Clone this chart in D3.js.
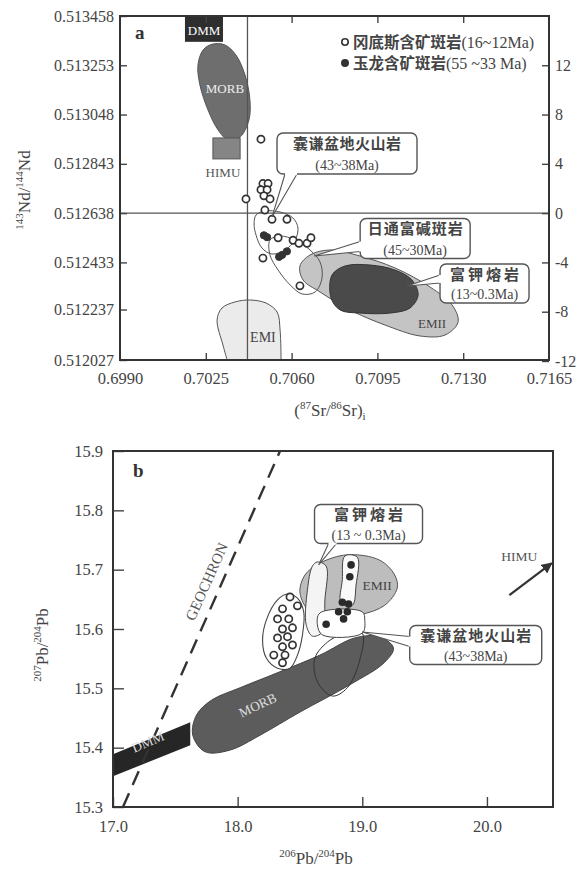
<!DOCTYPE html>
<html>
<head>
<meta charset="utf-8">
<script src="https://cdn.jsdelivr.net/npm/d3@7"></script>
<style>
  body { margin: 0; background: #fff; }
  svg text { font-family: "Liberation Serif", "DejaVu Serif", serif; fill: #444; }
  svg text.cjk, svg tspan.cjk { font-family: "Noto Sans CJK SC", sans-serif; font-weight: bold; }
</style>
</head>
<body>
<svg id="chart" width="580" height="877"></svg>
<script>
// ---------- panel a : (87Sr/86Sr)i vs 143Nd/144Nd (eNd) ----------
var srTicks = [0.6990, 0.7025, 0.7060, 0.7095, 0.7130, 0.7165];
var ndTicks = [0.512027, 0.512237, 0.512433, 0.512638, 0.512843, 0.513048, 0.513253, 0.513458];
var epsTicks = [-12, -8, -4, 0, 4, 8, 12];
var chur = 0.512638;
var bulkSr = 0.7042;

// points as [Sr, eNd]
var gangdiseA = [[0.70475, 6.0], [0.70483, 2.4], [0.70504, 2.4], [0.70475, 1.9], [0.70500, 1.9],
  [0.70487, 1.4], [0.70512, 1.15], [0.70414, 1.15], [0.70491, 0.25], [0.70520, -0.5],
  [0.70581, -0.5], [0.70545, -2.0], [0.70606, -2.2], [0.70630, -2.45], [0.70663, -2.45],
  [0.70679, -2.0], [0.70483, -3.65], [0.70634, -5.9]];
var yulongA = [[0.70487, -1.8], [0.70500, -1.95], [0.70581, -3.1], [0.70561, -3.4], [0.70549, -3.55]];

var dmmA = [[0.70165, 13.9], [0.70320, 16.0]];
var himuA = [[0.70279, 6.1], [0.70390, 4.4]];
var morbA = [[0.70275, 13.7], [0.70328, 13.65], [0.70373, 12.83], [0.70410, 11.21], [0.70430, 9.18],
  [0.70426, 7.56], [0.70390, 6.18], [0.70341, 5.94], [0.70300, 6.75], [0.70259, 8.37],
  [0.70226, 10.40], [0.70218, 12.02], [0.70239, 13.24]];
var emiA = [[0.70337, -11.92], [0.70320, -10.7], [0.70296, -8.68], [0.70316, -7.70], [0.70369, -7.21],
  [0.70430, -7.05], [0.70496, -7.30], [0.70541, -8.03], [0.70553, -9.49], [0.70557, -11.92]];
var emiiA = [[0.70634, -4.29], [0.70675, -3.40], [0.70757, -2.99], [0.70879, -3.48], [0.71022, -4.45],
  [0.71165, -6.0], [0.71255, -7.46], [0.71279, -8.84], [0.71226, -9.89], [0.71124, -9.97],
  [0.70981, -9.08], [0.70838, -7.86], [0.70716, -6.40], [0.70647, -5.43]];
var potassicA = [[0.70765, -5.02], [0.70818, -4.29], [0.70920, -4.21], [0.71022, -4.62], [0.71091, -5.43],
  [0.71116, -6.65], [0.71083, -7.70], [0.71002, -8.11], [0.70879, -8.11], [0.70798, -7.86],
  [0.70761, -6.89]];
var nangqianA = [[0.70455, -0.15], [0.70492, 0.17], [0.70553, 0.09], [0.70606, -0.40], [0.70626, -1.21],
  [0.70614, -2.18], [0.70573, -2.99], [0.70520, -3.32], [0.70479, -2.83], [0.70455, -1.78],
  [0.70447, -0.88]];
var ritongA = [[0.70512, -2.18], [0.70553, -1.86], [0.70614, -2.18], [0.70675, -2.99], [0.70716, -3.97],
  [0.70724, -5.27], [0.70696, -6.40], [0.70643, -6.56], [0.70594, -5.83], [0.70545, -4.62],
  [0.70512, -3.40]];

// ---------- panel b : 206Pb/204Pb vs 207Pb/204Pb ----------
var pb6Ticks = [17.0, 18.0, 19.0, 20.0];
var pb7Ticks = [15.3, 15.4, 15.5, 15.6, 15.7, 15.8, 15.9];
var geochron = [[17.08, 15.3], [18.34, 15.9]];
var himuArrow = [[20.18, 15.657], [20.52, 15.711]];

var gangdiseB = [[18.42, 15.654], [18.48, 15.639], [18.36, 15.634], [18.32, 15.617], [18.41, 15.617],
  [18.36, 15.600], [18.44, 15.602], [18.32, 15.585], [18.40, 15.587], [18.36, 15.570],
  [18.44, 15.573], [18.29, 15.556], [18.38, 15.556], [18.36, 15.543]];
var yulongB = [[18.91, 15.708], [18.90, 15.688], [18.84, 15.645], [18.89, 15.642], [18.81, 15.629],
  [18.88, 15.629], [18.85, 15.617], [18.71, 15.608]];

var dmmB = [[16.99, 15.388], [17.62, 15.443], [17.62, 15.404], [16.99, 15.351]];
var morbB = [[17.64, 15.421], [17.67, 15.455], [17.79, 15.480], [18.02, 15.501], [18.34, 15.528],
  [18.66, 15.556], [18.94, 15.585], [19.14, 15.587], [19.25, 15.568], [19.18, 15.544],
  [18.90, 15.506], [18.50, 15.460], [18.18, 15.421], [17.94, 15.396], [17.74, 15.393]];
var emiiB = [[18.50, 15.661], [18.54, 15.691], [18.66, 15.711], [18.88, 15.725], [19.14, 15.716],
  [19.26, 15.691], [19.28, 15.669], [19.18, 15.640], [18.98, 15.624], [18.74, 15.620],
  [18.58, 15.629]];
var gangdiseFieldB = [[18.40, 15.659], [18.48, 15.652], [18.53, 15.629], [18.52, 15.590], [18.48, 15.556],
  [18.42, 15.534], [18.32, 15.534], [18.23, 15.551], [18.20, 15.581], [18.23, 15.615],
  [18.32, 15.649]];
var potassicB = [[18.64, 15.713], [18.71, 15.706], [18.70, 15.649], [18.68, 15.595], [18.60, 15.588],
  [18.55, 15.607], [18.56, 15.666], [18.60, 15.706]];
var yulongBand = [[18.86, 15.723], [18.96, 15.721], [18.95, 15.674], [18.92, 15.640], [18.83, 15.644],
  [18.84, 15.683]];
var yulongBox = [[18.66, 15.627], [19.00, 15.629], [19.02, 15.615], [19.00, 15.593], [18.68, 15.590],
  [18.64, 15.607]];
var nangqianB = [[18.74, 15.581], [18.90, 15.595], [19.00, 15.593], [18.98, 15.548], [18.88, 15.501],
  [18.76, 15.487], [18.64, 15.511], [18.62, 15.551]];

var legendItems = [
  { filled: false, name: "冈底斯含矿斑岩", age: "(16~12Ma)" },
  { filled: true, name: "玉龙含矿斑岩", age: "(55 ~33 Ma)" }
];

// ---------- scales ----------
function eps(r) { return (r / chur - 1) * 1e4; }

var xA = d3.scaleLinear().domain([0.6990, 0.7165]).range([120, 549]);
var yA = d3.scaleLinear().domain([0.512027, 0.513458]).range([360, 16]);
var eA = d3.scaleLinear().domain([eps(0.512027), eps(0.513458)]).range([360, 16]);

var xB = d3.scaleLinear().domain([17.0, 20.53]).range([113, 553]);
var yB = d3.scaleLinear().domain([15.3, 15.9]).range([807, 451]);

var svg = d3.select("#chart");
var defs = svg.append("defs");
defs.append("clipPath").attr("id", "clipA").append("rect")
  .attr("x", 120).attr("y", 16).attr("width", 429).attr("height", 344);
defs.append("clipPath").attr("id", "clipB").append("rect")
  .attr("x", 113).attr("y", 451).attr("width", 440).attr("height", 356);
defs.append("marker").attr("id", "arrow").attr("viewBox", "0 0 10 10")
  .attr("refX", 9).attr("refY", 5).attr("markerWidth", 5).attr("markerHeight", 5)
  .attr("orient", "auto")
  .append("path").attr("d", "M0,0 L10,5 L0,10 z").attr("fill", "#333");

var lineA = d3.line().x(function(d) { return xA(d[0]); }).y(function(d) { return eA(d[1]); });
var lineB = d3.line().x(function(d) { return xB(d[0]); }).y(function(d) { return yB(d[1]); });
var smooth = d3.curveCatmullRomClosed.alpha(0.5);

function styleAxis(g, size) {
  g.select(".domain").remove();
  g.selectAll(".tick line").attr("stroke", "#444").attr("stroke-width", 1.4);
  g.selectAll(".tick text").attr("font-size", size)
    .attr("font-family", "Liberation Serif, serif");
}

// ================= panel a =================
var pa = svg.append("g");
var fa = pa.append("g").attr("clip-path", "url(#clipA)");

fa.append("path").attr("d", lineA.curve(d3.curveCatmullRom)(emiA) + "Z")
  .attr("fill", "#ebebeb").attr("stroke", "#555").attr("stroke-width", 1);
fa.append("path").attr("d", lineA.curve(smooth)(emiiA))
  .attr("fill", "#c4c4c4").attr("stroke", "#555").attr("stroke-width", 1);
fa.append("path").attr("d", lineA.curve(smooth)(potassicA))
  .attr("fill", "#4a4a4a").attr("stroke", "#333").attr("stroke-width", 1);
fa.append("path").attr("d", lineA.curve(smooth)(ritongA))
  .attr("fill", "none").attr("stroke", "#555").attr("stroke-width", 1);
fa.append("path").attr("d", lineA.curve(smooth)(nangqianA))
  .attr("fill", "none").attr("stroke", "#555").attr("stroke-width", 1);
fa.append("path").attr("d", lineA.curve(smooth)(morbA))
  .attr("fill", "#6e6e6e").attr("stroke", "#555").attr("stroke-width", 1);
fa.append("rect")
  .attr("x", xA(himuA[0][0])).attr("y", eA(himuA[0][1]))
  .attr("width", xA(himuA[1][0]) - xA(himuA[0][0])).attr("height", eA(himuA[1][1]) - eA(himuA[0][1]))
  .attr("fill", "#858585").attr("stroke", "#555");
fa.append("rect")
  .attr("x", xA(dmmA[0][0])).attr("y", eA(dmmA[1][1]))
  .attr("width", xA(dmmA[1][0]) - xA(dmmA[0][0])).attr("height", eA(dmmA[0][1]) - eA(dmmA[1][1]))
  .attr("fill", "#2e2e2e");

// reference lines (bulk earth)
fa.append("line").attr("x1", xA(bulkSr)).attr("x2", xA(bulkSr)).attr("y1", 16).attr("y2", 360)
  .attr("stroke", "#555").attr("stroke-width", 1.3);
fa.append("line").attr("x1", 120).attr("x2", 549).attr("y1", eA(0)).attr("y2", eA(0))
  .attr("stroke", "#555").attr("stroke-width", 1.3);

// field labels
var fieldLabelsA = [
  { t: "DMM", at: [0.70243, 14.8], fill: "#fff", size: 13 },
  { t: "MORB", at: [0.70328, 10.1], fill: "#eee", size: 13 },
  { t: "HIMU", at: [0.70320, 3.26], fill: "#555", size: 13 },
  { t: "EMI", at: [0.70483, -10.05], fill: "#444", size: 14 },
  { t: "EMII", at: [0.71173, -8.92], fill: "#444", size: 13 }
];
fieldLabelsA.forEach(function(l) {
  fa.append("text").attr("x", xA(l.at[0])).attr("y", eA(l.at[1])).attr("dy", "0.35em")
    .attr("text-anchor", "middle").attr("font-size", l.size).style("fill", l.fill).text(l.t);
});

// points
fa.selectAll(".ga").data(gangdiseA).enter().append("circle")
  .attr("cx", function(d) { return xA(d[0]); }).attr("cy", function(d) { return eA(d[1]); })
  .attr("r", 3.6).attr("fill", "#fff").attr("stroke", "#333").attr("stroke-width", 1.7);
fa.selectAll(".ya").data(yulongA).enter().append("circle")
  .attr("cx", function(d) { return xA(d[0]); }).attr("cy", function(d) { return eA(d[1]); })
  .attr("r", 3.6).attr("fill", "#333").attr("stroke", "#333").attr("stroke-width", 1);

// axes
pa.append("g").attr("transform", "translate(120,0)")
  .call(d3.axisLeft(yA).tickValues(ndTicks).tickFormat(d3.format(".6f")).tickSize(-7).tickPadding(6))
  .call(styleAxis, 16);
pa.append("g").attr("transform", "translate(549,0)")
  .call(d3.axisRight(eA).tickValues(epsTicks).tickFormat(function(d) { return String(d); }).tickSize(-7).tickPadding(6))
  .call(styleAxis, 16);
pa.append("g").attr("transform", "translate(0,360)")
  .call(d3.axisBottom(xA).tickValues(srTicks.slice(1, -1)).tickFormat("").tickSize(-7))
  .call(styleAxis, 16);
pa.append("g").attr("transform", "translate(0,360)")
  .call(d3.axisBottom(xA).tickValues(srTicks).tickFormat(d3.format(".4f")).tickSize(0).tickPadding(12))
  .call(styleAxis, 16.5);
pa.append("g").attr("transform", "translate(0,16)")
  .call(d3.axisTop(xA).tickValues(srTicks.slice(1, -1)).tickFormat("").tickSize(-7))
  .call(styleAxis, 16);
pa.append("rect").attr("x", 120).attr("y", 16).attr("width", 429).attr("height", 344)
  .attr("fill", "none").attr("stroke", "#333").attr("stroke-width", 2);

pa.append("text").attr("x", 135).attr("y", 39).attr("font-size", 19).attr("font-weight", "bold")
  .style("fill", "#333").text("a");

// legend
legendItems.forEach(function(it, i) {
  var y = 42 + i * 21;
  pa.append("circle").attr("cx", 345).attr("cy", y).attr("r", 3.2)
    .attr("fill", it.filled ? "#333" : "#fff").attr("stroke", "#333").attr("stroke-width", 1.6);
  var t = pa.append("text").attr("x", 353).attr("y", y).attr("dy", "0.36em");
  t.append("tspan").attr("class", "cjk").attr("font-size", 15.5).text(it.name);
  t.append("tspan").attr("font-size", 16).text(it.age);
});

// axis titles a
var xt = pa.append("text").attr("x", 330).attr("y", 416).attr("text-anchor", "middle").attr("font-size", 17);
xt.append("tspan").text("(");
xt.append("tspan").attr("font-size", 11).attr("dy", -7).text("87");
xt.append("tspan").attr("dy", 7).text("Sr/");
xt.append("tspan").attr("font-size", 11).attr("dy", -7).text("86");
xt.append("tspan").attr("dy", 7).text("Sr)");
xt.append("tspan").attr("font-size", 11).attr("dy", 4).text("i");

var yt = pa.append("text").attr("transform", "translate(30,190) rotate(-90)")
  .attr("text-anchor", "middle").attr("font-size", 17);
yt.append("tspan").attr("font-size", 11).attr("dy", -7).text("143");
yt.append("tspan").attr("dy", 7).text("Nd/");
yt.append("tspan").attr("font-size", 11).attr("dy", -7).text("144");
yt.append("tspan").attr("dy", 7).text("Nd");

// ================= panel b =================
var pb = svg.append("g");
var fb = pb.append("g").attr("clip-path", "url(#clipB)");

fb.append("path").attr("d", lineB.curve(d3.curveLinearClosed)(dmmB)).attr("fill", "#262626");
fb.append("path").attr("d", lineB.curve(smooth)(morbB))
  .attr("fill", "#5c5c5c").attr("stroke", "#444").attr("stroke-width", 1);
fb.append("path").attr("d", lineB.curve(smooth)(emiiB))
  .attr("fill", "#bdbdbd").attr("stroke", "#555").attr("stroke-width", 1);
fb.append("path").attr("d", lineB.curve(smooth)(nangqianB))
  .attr("fill", "none").attr("stroke", "#333").attr("stroke-width", 1);
fb.append("path").attr("d", lineB.curve(smooth)(potassicB))
  .attr("fill", "#f4f4f4").attr("stroke", "#444").attr("stroke-width", 1);
fb.append("path").attr("d", lineB.curve(smooth)(yulongBand))
  .attr("fill", "#fafafa").attr("stroke", "#444").attr("stroke-width", 1);
fb.append("path").attr("d", lineB.curve(smooth)(yulongBox))
  .attr("fill", "#fff").attr("stroke", "#444").attr("stroke-width", 1);
fb.append("path").attr("d", lineB.curve(smooth)(gangdiseFieldB))
  .attr("fill", "#fff").attr("stroke", "#444").attr("stroke-width", 1.1);

// geochron
fb.append("path").attr("d", lineB.curve(d3.curveLinear)(geochron))
  .attr("fill", "none").attr("stroke", "#333").attr("stroke-width", 2.4).attr("stroke-dasharray", "15,9");
fb.append("text").attr("transform", "translate(" + xB(17.75) + "," + yB(15.68) + ") rotate(-66)")
  .attr("text-anchor", "middle").attr("dy", "0.35em").attr("font-size", 15).style("fill", "#555")
  .text("GEOCHRON");

// field labels b
var fieldLabelsB = [
  { t: "DMM", at: [17.28, 15.41], rot: -23, fill: "#ddd" },
  { t: "MORB", at: [18.16, 15.472], rot: -25, fill: "#ddd" },
  { t: "EMII", at: [19.12, 15.674], rot: 0, fill: "#444" },
  { t: "HIMU", at: [20.26, 15.723], rot: 0, fill: "#555" }
];
fieldLabelsB.forEach(function(l) {
  fb.append("text").attr("transform", "translate(" + xB(l.at[0]) + "," + yB(l.at[1]) + ") rotate(" + l.rot + ")")
    .attr("text-anchor", "middle").attr("dy", "0.35em").attr("font-size", 13.5).style("fill", l.fill).text(l.t);
});

fb.append("line").attr("x1", xB(himuArrow[0][0])).attr("y1", yB(himuArrow[0][1]))
  .attr("x2", xB(himuArrow[1][0])).attr("y2", yB(himuArrow[1][1]))
  .attr("stroke", "#333").attr("stroke-width", 2.2).attr("marker-end", "url(#arrow)");

fb.selectAll(".gb").data(gangdiseB).enter().append("circle")
  .attr("cx", function(d) { return xB(d[0]); }).attr("cy", function(d) { return yB(d[1]); })
  .attr("r", 3.6).attr("fill", "#fff").attr("stroke", "#333").attr("stroke-width", 1.7);
fb.selectAll(".yb").data(yulongB).enter().append("circle")
  .attr("cx", function(d) { return xB(d[0]); }).attr("cy", function(d) { return yB(d[1]); })
  .attr("r", 3.8).attr("fill", "#2a2a2a");

pb.append("g").attr("transform", "translate(113,0)")
  .call(d3.axisLeft(yB).tickValues(pb7Ticks).tickFormat(d3.format(".1f")).tickSize(-11).tickPadding(10))
  .call(styleAxis, 16.5);
pb.append("g").attr("transform", "translate(0,807)")
  .call(d3.axisBottom(xB).tickValues(pb6Ticks).tickFormat(d3.format(".1f")).tickSize(-10).tickPadding(13))
  .call(styleAxis, 16.5);
pb.append("rect").attr("x", 113).attr("y", 451).attr("width", 440).attr("height", 356)
  .attr("fill", "none").attr("stroke", "#333").attr("stroke-width", 2);

pb.append("text").attr("x", 133).attr("y", 477).attr("font-size", 19).attr("font-weight", "bold")
  .style("fill", "#333").text("b");

var xtb = pb.append("text").attr("x", 316).attr("y", 864).attr("text-anchor", "middle").attr("font-size", 17);
xtb.append("tspan").attr("font-size", 11).attr("dy", -7).text("206");
xtb.append("tspan").attr("dy", 7).text("Pb/");
xtb.append("tspan").attr("font-size", 11).attr("dy", -7).text("204");
xtb.append("tspan").attr("dy", 7).text("Pb");

var ytb = pb.append("text").attr("transform", "translate(48,645) rotate(-90)")
  .attr("text-anchor", "middle").attr("font-size", 17);
ytb.append("tspan").attr("font-size", 11).attr("dy", -7).text("207");
ytb.append("tspan").attr("dy", 7).text("Pb/");
ytb.append("tspan").attr("font-size", 11).attr("dy", -7).text("204");
ytb.append("tspan").attr("dy", 7).text("Pb");

// ================= callouts =================
var callouts = [
  { g: pa, x: xA, y: eA, name: "囊谦盆地火山岩", age: "(43~38Ma)", at: [0.70826, 4.84], w: 140, h: 41,
    target: [0.70520, -0.32], side: "bottom", base: [8, 20], ls: 0.5 },
  { g: pa, x: xA, y: eA, name: "日通富碱斑岩", age: "(45~30Ma)", at: [0.71104, -2.06], w: 110, h: 40,
    target: [0.70692, -3.48], side: "left", base: [23, 33], ls: 1 },
  { g: pa, x: xA, y: eA, name: "富钾熔岩", age: "(13~0.3Ma)", at: [0.71387, -5.71], w: 89, h: 39,
    target: [0.71071, -5.92], side: "left", base: [11, 19], ls: 3 },
  { g: pb, x: xB, y: yB, name: "富钾熔岩", age: "(13 ~ 0.3Ma)", at: [19.05, 15.777], w: 108, h: 39,
    target: [18.65, 15.708], side: "bottom", base: [14, 22], ls: 3 },
  { g: pb, x: xB, y: yB, name: "囊谦盆地火山岩", age: "(43~38Ma)", at: [19.91, 15.573], w: 132, h: 39,
    target: [19.00, 15.595], side: "left", base: [11, 21], ls: 1 }
];
callouts.forEach(function(c) {
  var cx = c.x(c.at[0]), cy = c.y(c.at[1]);
  var bx = cx - c.w / 2, by = cy - c.h / 2;
  var tx = c.x(c.target[0]), ty = c.y(c.target[1]);
  var p1, p2;
  if (c.side === "bottom") { p1 = [bx + c.base[0], by + c.h]; p2 = [bx + c.base[1], by + c.h]; }
  else { p1 = [bx, by + c.base[0]]; p2 = [bx, by + c.base[1]]; }
  c.g.append("rect").attr("x", bx).attr("y", by).attr("width", c.w).attr("height", c.h)
    .attr("rx", 6).attr("fill", "#fff").attr("stroke", "#555").attr("stroke-width", 1.4);
  c.g.append("path").attr("d", "M" + p1 + "L" + tx + "," + ty + "L" + p2)
    .attr("fill", "#fff").attr("stroke", "#555").attr("stroke-width", 1.1);
  c.g.append("line").attr("x1", p1[0]).attr("y1", p1[1]).attr("x2", p2[0]).attr("y2", p2[1])
    .attr("stroke", "#fff").attr("stroke-width", 2.4);
  c.g.append("text").attr("class", "cjk").attr("x", cx + c.ls / 2).attr("y", by + 10.5).attr("dy", "0.36em")
    .attr("text-anchor", "middle").attr("font-size", 15).attr("letter-spacing", c.ls).text(c.name);
  c.g.append("text").attr("x", cx).attr("y", by + c.h - 9).attr("dy", "0.36em")
    .attr("text-anchor", "middle").attr("font-size", 14).text(c.age);
});
</script>
</body>
</html>
